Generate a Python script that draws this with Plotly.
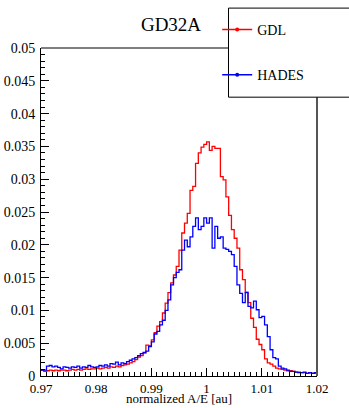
import numpy as np
import plotly.graph_objects as go

# Histogram binning of normalized A/E
X_MIN, X_MAX, N_BINS = 0.97, 1.02, 100

# Normalized counts per bin, GDL
gdl = [
    0.0009, 0.0007, 0.0008, 0.0009, 0.0008, 0.0009, 0.0008, 0.0009, 0.0009, 0.0008,
    0.0009, 0.0010, 0.0009, 0.0010, 0.0009, 0.0010, 0.0011, 0.0010, 0.0011, 0.0011,
    0.0012, 0.0011, 0.0012, 0.0013, 0.0012, 0.0014, 0.0013, 0.0015, 0.0014, 0.0016,
    0.0017, 0.0018, 0.0020, 0.0022, 0.0025, 0.0029, 0.0031, 0.0035, 0.0047, 0.0046,
    0.0055, 0.0066, 0.0076, 0.0083, 0.0096, 0.0111, 0.0127, 0.0142, 0.0154, 0.0167,
    0.0192, 0.0218, 0.0233, 0.0248, 0.0283, 0.0289, 0.0324, 0.0340, 0.0349, 0.0353,
    0.0357, 0.0344, 0.0350, 0.0347, 0.0347, 0.0304, 0.0299, 0.0273, 0.0245, 0.0223,
    0.0210, 0.0195, 0.0162, 0.0147, 0.0128, 0.0112, 0.0088, 0.0074, 0.0056, 0.0048,
    0.0040, 0.0026, 0.0020, 0.0018, 0.0015, 0.0012, 0.0011, 0.0010, 0.0009, 0.0008,
    0.0008, 0.0007, 0.0006, 0.0006, 0.0005, 0.0005, 0.0004, 0.0005, 0.0004, 0.0004,
]

# Normalized counts per bin, HADES
hades = [
    0.0009, 0.0009, 0.0015, 0.0016, 0.0014, 0.0015, 0.0013, 0.0011, 0.0014, 0.0013,
    0.0012, 0.0014, 0.0013, 0.0015, 0.0012, 0.0014, 0.0013, 0.0016, 0.0014, 0.0013,
    0.0014, 0.0016, 0.0015, 0.0017, 0.0015, 0.0019, 0.0018, 0.0021, 0.0017, 0.0020,
    0.0019, 0.0022, 0.0024, 0.0026, 0.0028, 0.0031, 0.0034, 0.0036, 0.0038, 0.0045,
    0.0052, 0.0064, 0.0068, 0.0078, 0.0085, 0.0100, 0.0116, 0.0139, 0.0150, 0.0158,
    0.0162, 0.0192, 0.0207, 0.0197, 0.0212, 0.0228, 0.0241, 0.0223, 0.0228, 0.0241,
    0.0233, 0.0241, 0.0195, 0.0228, 0.0210, 0.0212, 0.0195, 0.0193, 0.0190, 0.0185,
    0.0167, 0.0139, 0.0126, 0.0112, 0.0127, 0.0106, 0.0104, 0.0114, 0.0101, 0.0089,
    0.0091, 0.0078, 0.0060, 0.0040, 0.0028, 0.0026, 0.0015, 0.0012, 0.0011, 0.0009,
    0.0007, 0.0007, 0.0006, 0.0005, 0.0005, 0.0006, 0.0004, 0.0005, 0.0004, 0.0005,
]

x_tickvals = [0.97, 0.98, 0.99, 1.0, 1.01, 1.02]
x_ticktext = ["0.97", "0.98", "0.99", "1", "1.01", "1.02"]
y_tickvals = [0, 0.005, 0.01, 0.015, 0.02, 0.025, 0.03, 0.035, 0.04, 0.045, 0.05]
y_ticktext = ["0", "0.005", "0.01", "0.015", "0.02", "0.025", "0.03", "0.035", "0.04", "0.045", "0.05"]

series = [("GDL", gdl, "#ff0000"), ("HADES", hades, "#0000ff")]

SERIF = "Times New Roman"
W, H = 349, 408
ML, MR, MT, MB = 41, 32.3, 47.7, 31.5
PW, PH = W - ML - MR, H - MT - MB


def px_x(p):
    return (p - ML) / PW


def px_y(p):
    return (H - MB - p) / PH


edges = np.linspace(X_MIN, X_MAX, N_BINS + 1)

fig = go.Figure()
for name, vals, color in series:
    fig.add_trace(go.Scatter(
        x=edges, y=list(vals) + [vals[-1]], mode="lines", line_shape="hv",
        line=dict(color=color, width=1.3), showlegend=False, hoverinfo="skip",
    ))
for name, vals, color in series:
    fig.add_trace(go.Scatter(
        x=[None], y=[None], mode="lines+markers", name=name, legendgroup=name,
        line=dict(color=color, width=1.5), marker=dict(color=color, size=4),
    ))

axis_common = dict(
    showgrid=False, zeroline=False, showline=True, linecolor="black", linewidth=1,
    ticks="inside", ticklen=8, tickcolor="black", tickwidth=1, automargin=False,
    minor=dict(ticks="inside", ticklen=4, dtick=0.001, tickcolor="black", tickwidth=1),
)

fig.update_layout(
    width=W, height=H,
    margin=dict(l=ML, r=MR, t=MT, b=MB, autoexpand=False),
    paper_bgcolor="white", plot_bgcolor="white",
    font=dict(family=SERIF),
    xaxis=dict(range=[X_MIN, X_MAX], tickmode="array", tickvals=x_tickvals,
               ticktext=x_ticktext, ticklabelstandoff=0,
               tickfont=dict(family=SERIF, size=13, color="black"), **axis_common),
    yaxis=dict(range=[0, 0.05], tickmode="array", tickvals=y_tickvals,
               ticktext=y_ticktext, ticklabelstandoff=2,
               tickfont=dict(family=SERIF, size=14, color="black"), **axis_common),
    title=dict(text="GD32A", x=171 / W, y=1 - 24 / H, xanchor="center", yanchor="middle",
               font=dict(family=SERIF, size=19, color="black")),
    legend=dict(x=px_x(217), y=px_y(13.5), xanchor="left", yanchor="top",
                bgcolor="rgba(0,0,0,0)", borderwidth=0, tracegroupgap=24,
                font=dict(family=SERIF, size=14, color="black")),
    showlegend=True,
)

# Frame: top edge and right edge
fig.add_shape(type="line", xref="paper", yref="paper", x0=0, x1=1, y0=1, y1=1,
              line=dict(color="black", width=1), layer="above")
fig.add_shape(type="line", xref="paper", yref="paper", x0=1, x1=1, y0=0, y1=1,
              line=dict(color="#555555", width=2), layer="above")
# Legend box
fig.add_shape(type="rect", xref="paper", yref="paper",
              x0=px_x(228.3), x1=px_x(355), y0=px_y(97), y1=px_y(7.7),
              line=dict(color="black", width=1), fillcolor="white", layer="above")

fig.add_annotation(text="normalized A/E [au]", xref="paper", yref="paper",
                   x=0.5, y=px_y(407.5), xanchor="center", yanchor="bottom",
                   borderpad=0, showarrow=False,
                   font=dict(family=SERIF, size=13, color="black"))

fig.write_html("out.html")
